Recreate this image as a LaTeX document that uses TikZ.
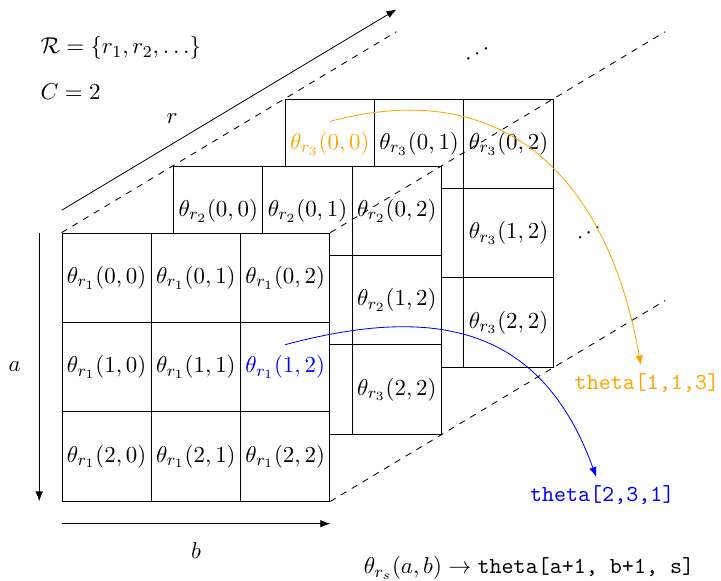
\documentclass[tikz,border=0pt,11pt]{standalone}
\definecolor{thorange}{HTML}{FFA500}
\definecolor{thblue}{HTML}{0000FF}
\usepackage{xcolor}
\usepackage{amsmath}
\usepackage{tikz}
\usetikzlibrary{positioning,arrows.meta}

\begin{document}
\begin{tikzpicture}[x=1.5cm, y=1.5cm]
    \tikzstyle{cell}=[draw, fill=white, minimum size=1.5cm, inner sep=0pt]
    \tikzstyle{guide}=[dashed]
    \tikzstyle{axis}=[-{Latex}]
    \tikzstyle{map}=[-{Latex}]
    \tikzstyle{index}=[font=\ttfamily]
    \tikzstyle{info}=[anchor=west]

    \useasboundingbox (-0.694,-0.896) rectangle (7.380,5.610);

    \foreach \s/\dx/\dy in {3/2.5/1.5, 2/1.25/0.75, 1/0/0}
      \foreach \a in {0,1,2}
        \foreach \b in {0,1,2} {
          \ifnum\s\a\b=222 \def\lbl{3}\else\let\lbl\s\fi
          \ifnum\s\a\b=300 \def\col{thorange}\else
            \ifnum\s\a\b=112 \def\col{thblue}\else\def\col{black}\fi\fi
          \def\txt{$\theta_{r_\lbl}(\a,\b)$}
          \ifnum\s>1 \ifnum\a>0 \ifnum\b<2 \def\txt{}\fi\fi\fi
          \node[cell, text=\col] (c\s\a\b) at (\dx+\b+0.5, \dy+2.5-\a) {\txt};
        }

    \node[info] (rset) at (-0.33,5.07) {$\mathcal{R} = \{r_1, r_2, \ldots\}$};
    \node[info] (cval) at (-0.33,4.58) {$C = 2$};
    \node[rotate=31] (more1) at (4.65,5.01) {$\ldots$};
    \node[rotate=31] (more2) at (5.90,3.00) {$\ldots$};

    \draw[guide] (c100.north west) -- ++(3.75,2.25);
    \draw[guide] (c102.north east) -- ++(3.75,2.25);
    \draw[guide] (c122.south east) -- ++(3.75,2.25);

    \draw[axis] ([yshift=0.375cm]c100.north west) -- ++(3.75,2.25)
          node[pos=0.33, above=6pt] (rlab) {$r$};
    \draw[axis] ([xshift=-0.375cm]c100.north west) -- ([xshift=-0.375cm]c120.south west)
          node[midway, left=5pt] (alab) {$a$};
    \draw[axis] ([yshift=-0.375cm]c120.south west) -- ([yshift=-0.375cm]c122.south east)
          node[midway, below=5pt] (blab) {$b$};

    \node[index, text=thorange] (idx113) at (6.55,1.32) {theta[1,1,3]};
    \node[index, text=thblue] (idx231) at (6.05,0.07) {theta[2,3,1]};
    \node (rule) at (5.23,-0.75) {$\theta_{r_s}(a,b) \rightarrow \texttt{theta[a+1, b+1, s]}$};

    \draw[map, thorange] ([yshift=0.375cm]c300.center) to[out=15, in=100, looseness=1.2]
          ([xshift=-0.1cm]idx113.north);
    \draw[map, thblue] ([yshift=0.375cm]c112.center) to[out=15, in=110, looseness=1.2]
          ([xshift=-0.1cm]idx231.north);
\end{tikzpicture}
\end{document}
